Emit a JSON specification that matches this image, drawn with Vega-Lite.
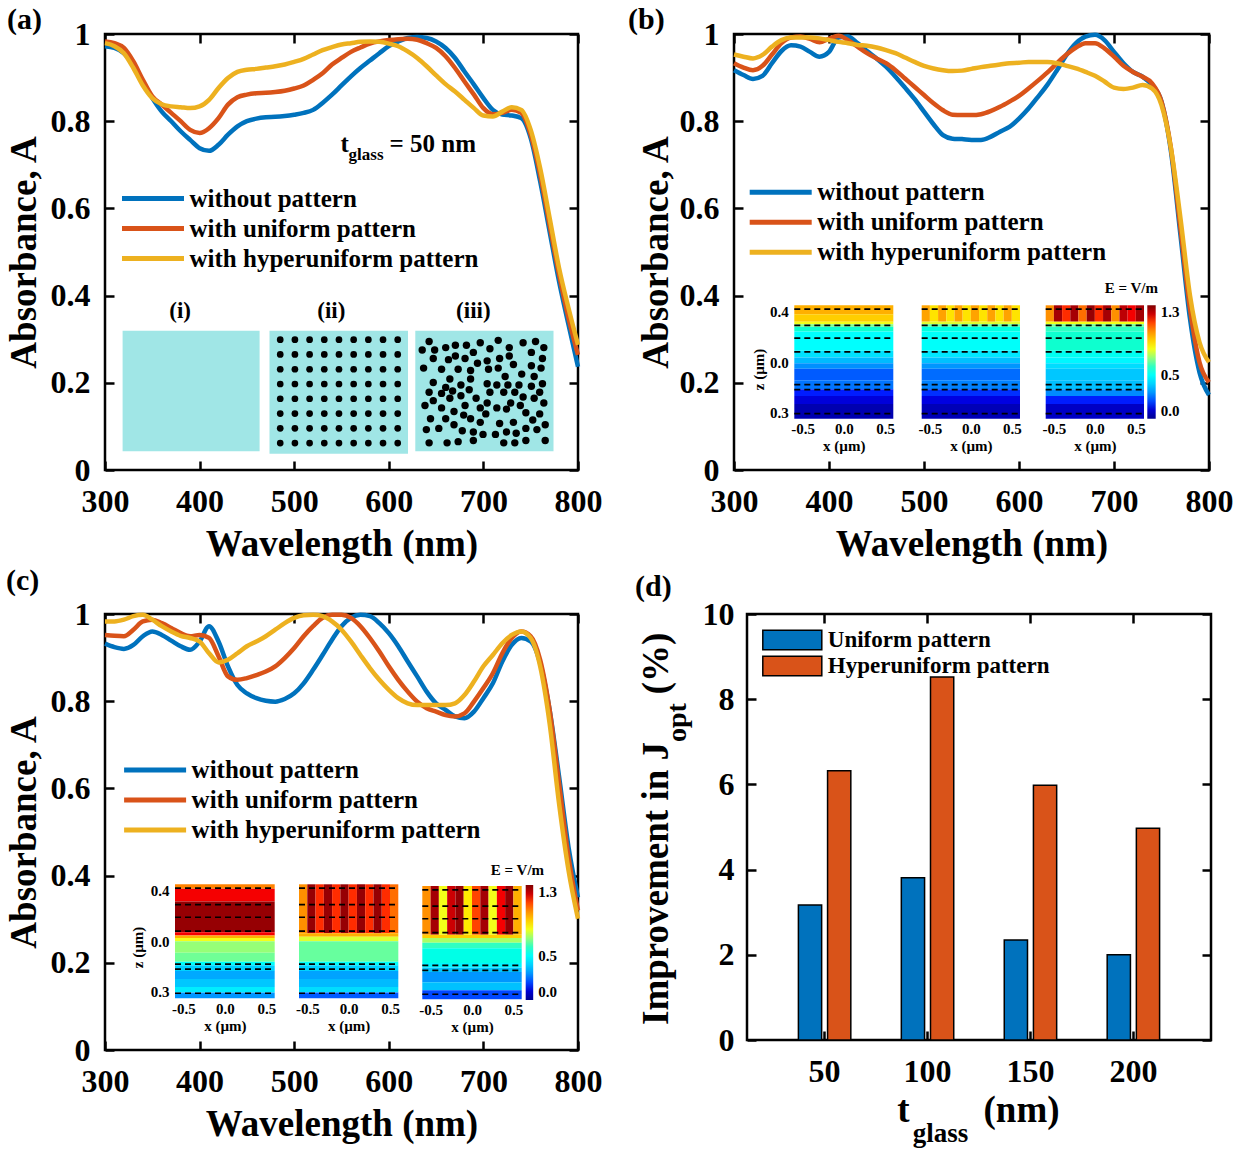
{
 "$schema": "https://vega.github.io/schema/vega-lite/v6.json",
 "padding": {"left": 3, "top": 3, "right": 0, "bottom": 0},
 "background": "white",
 "config": {
  "font": "Liberation Serif",
  "view": {"stroke": "black", "strokeWidth": 2.5},
  "axis": {"grid": false, "domain": false, "labelFont": "Liberation Serif", "labelFontWeight": "bold", "labelColor": "black", "titleFont": "Liberation Serif", "titleFontWeight": "bold", "titleColor": "black", "tickColor": "black", "labelFlush": false, "labelOverlap": false},
  "legend": {"labelFont": "Liberation Serif", "labelFontWeight": "bold", "labelColor": "black"},
  "title": {"font": "Liberation Serif", "fontWeight": "bold", "fontSize": 30, "anchor": "start", "frame": "group", "color": "black"},
  "text": {"font": "Liberation Serif", "color": "black"}
 },
 "datasets": {
  "abs_a": [
   {"wl":300,"without pattern":0.972,"with uniform pattern":0.983,"with hyperuniform pattern":0.979},
   {"wl":310,"without pattern":0.968,"with uniform pattern":0.979,"with hyperuniform pattern":0.972},
   {"wl":320,"without pattern":0.956,"with uniform pattern":0.968,"with hyperuniform pattern":0.956},
   {"wl":330,"without pattern":0.93,"with uniform pattern":0.937,"with hyperuniform pattern":0.922},
   {"wl":340,"without pattern":0.891,"with uniform pattern":0.895,"with hyperuniform pattern":0.882},
   {"wl":350,"without pattern":0.853,"with uniform pattern":0.857,"with hyperuniform pattern":0.853},
   {"wl":360,"without pattern":0.822,"with uniform pattern":0.838,"with hyperuniform pattern":0.839},
   {"wl":370,"without pattern":0.8,"with uniform pattern":0.819,"with hyperuniform pattern":0.834},
   {"wl":380,"without pattern":0.777,"with uniform pattern":0.8,"with hyperuniform pattern":0.832},
   {"wl":390,"without pattern":0.757,"with uniform pattern":0.78,"with hyperuniform pattern":0.83},
   {"wl":400,"without pattern":0.738,"with uniform pattern":0.773,"with hyperuniform pattern":0.834},
   {"wl":410,"without pattern":0.732,"with uniform pattern":0.784,"with hyperuniform pattern":0.849},
   {"wl":420,"without pattern":0.746,"with uniform pattern":0.807,"with hyperuniform pattern":0.876},
   {"wl":430,"without pattern":0.769,"with uniform pattern":0.838,"with hyperuniform pattern":0.899},
   {"wl":440,"without pattern":0.788,"with uniform pattern":0.855,"with hyperuniform pattern":0.913},
   {"wl":450,"without pattern":0.8,"with uniform pattern":0.861,"with hyperuniform pattern":0.918},
   {"wl":460,"without pattern":0.806,"with uniform pattern":0.864,"with hyperuniform pattern":0.92},
   {"wl":470,"without pattern":0.809,"with uniform pattern":0.865,"with hyperuniform pattern":0.923},
   {"wl":480,"without pattern":0.81,"with uniform pattern":0.867,"with hyperuniform pattern":0.926},
   {"wl":490,"without pattern":0.812,"with uniform pattern":0.87,"with hyperuniform pattern":0.93},
   {"wl":500,"without pattern":0.815,"with uniform pattern":0.875,"with hyperuniform pattern":0.936},
   {"wl":510,"without pattern":0.819,"with uniform pattern":0.882,"with hyperuniform pattern":0.943},
   {"wl":520,"without pattern":0.826,"with uniform pattern":0.895,"with hyperuniform pattern":0.953},
   {"wl":530,"without pattern":0.842,"with uniform pattern":0.91,"with hyperuniform pattern":0.963},
   {"wl":540,"without pattern":0.861,"with uniform pattern":0.93,"with hyperuniform pattern":0.97},
   {"wl":550,"without pattern":0.882,"with uniform pattern":0.945,"with hyperuniform pattern":0.976},
   {"wl":560,"without pattern":0.903,"with uniform pattern":0.959,"with hyperuniform pattern":0.979},
   {"wl":570,"without pattern":0.922,"with uniform pattern":0.969,"with hyperuniform pattern":0.982},
   {"wl":580,"without pattern":0.939,"with uniform pattern":0.978,"with hyperuniform pattern":0.983},
   {"wl":590,"without pattern":0.956,"with uniform pattern":0.983,"with hyperuniform pattern":0.982},
   {"wl":600,"without pattern":0.972,"with uniform pattern":0.986,"with hyperuniform pattern":0.978},
   {"wl":610,"without pattern":0.983,"with uniform pattern":0.988,"with hyperuniform pattern":0.972},
   {"wl":620,"without pattern":0.991,"with uniform pattern":0.989,"with hyperuniform pattern":0.96},
   {"wl":630,"without pattern":0.993,"with uniform pattern":0.987,"with hyperuniform pattern":0.945},
   {"wl":640,"without pattern":0.991,"with uniform pattern":0.979,"with hyperuniform pattern":0.926},
   {"wl":650,"without pattern":0.983,"with uniform pattern":0.968,"with hyperuniform pattern":0.905},
   {"wl":660,"without pattern":0.968,"with uniform pattern":0.949,"with hyperuniform pattern":0.885},
   {"wl":670,"without pattern":0.945,"with uniform pattern":0.922,"with hyperuniform pattern":0.868},
   {"wl":680,"without pattern":0.914,"with uniform pattern":0.891,"with hyperuniform pattern":0.849},
   {"wl":690,"without pattern":0.884,"with uniform pattern":0.861,"with hyperuniform pattern":0.83},
   {"wl":700,"without pattern":0.853,"with uniform pattern":0.83,"with hyperuniform pattern":0.813},
   {"wl":710,"without pattern":0.826,"with uniform pattern":0.816,"with hyperuniform pattern":0.811},
   {"wl":720,"without pattern":0.815,"with uniform pattern":0.819,"with hyperuniform pattern":0.822},
   {"wl":730,"without pattern":0.813,"with uniform pattern":0.826,"with hyperuniform pattern":0.832},
   {"wl":740,"without pattern":0.807,"with uniform pattern":0.819,"with hyperuniform pattern":0.826},
   {"wl":750,"without pattern":0.761,"with uniform pattern":0.769,"with hyperuniform pattern":0.78},
   {"wl":760,"without pattern":0.662,"with uniform pattern":0.677,"with hyperuniform pattern":0.692},
   {"wl":770,"without pattern":0.547,"with uniform pattern":0.562,"with hyperuniform pattern":0.578},
   {"wl":780,"without pattern":0.432,"with uniform pattern":0.448,"with hyperuniform pattern":0.463},
   {"wl":790,"without pattern":0.333,"with uniform pattern":0.348,"with hyperuniform pattern":0.371},
   {"wl":800,"without pattern":0.237,"with uniform pattern":0.264,"with hyperuniform pattern":0.287}
  ],
  "abs_b": [
   {"wl":300,"without pattern":0.917,"with uniform pattern":0.933,"with hyperuniform pattern":0.953},
   {"wl":310,"without pattern":0.906,"with uniform pattern":0.923,"with hyperuniform pattern":0.948},
   {"wl":320,"without pattern":0.897,"with uniform pattern":0.917,"with hyperuniform pattern":0.944},
   {"wl":330,"without pattern":0.904,"with uniform pattern":0.927,"with hyperuniform pattern":0.952},
   {"wl":340,"without pattern":0.933,"with uniform pattern":0.953,"with hyperuniform pattern":0.971},
   {"wl":350,"without pattern":0.961,"with uniform pattern":0.979,"with hyperuniform pattern":0.986},
   {"wl":360,"without pattern":0.974,"with uniform pattern":0.992,"with hyperuniform pattern":0.992},
   {"wl":370,"without pattern":0.971,"with uniform pattern":0.994,"with hyperuniform pattern":0.992},
   {"wl":380,"without pattern":0.959,"with uniform pattern":0.989,"with hyperuniform pattern":0.992},
   {"wl":390,"without pattern":0.948,"with uniform pattern":0.981,"with hyperuniform pattern":0.99},
   {"wl":400,"without pattern":0.959,"with uniform pattern":0.989,"with hyperuniform pattern":0.986},
   {"wl":410,"without pattern":0.992,"with uniform pattern":0.996,"with hyperuniform pattern":0.982},
   {"wl":420,"without pattern":0.994,"with uniform pattern":0.986,"with hyperuniform pattern":0.979},
   {"wl":430,"without pattern":0.979,"with uniform pattern":0.971,"with hyperuniform pattern":0.975},
   {"wl":440,"without pattern":0.961,"with uniform pattern":0.956,"with hyperuniform pattern":0.973},
   {"wl":450,"without pattern":0.944,"with uniform pattern":0.944,"with hyperuniform pattern":0.969},
   {"wl":460,"without pattern":0.925,"with uniform pattern":0.933,"with hyperuniform pattern":0.963},
   {"wl":470,"without pattern":0.902,"with uniform pattern":0.917,"with hyperuniform pattern":0.956},
   {"wl":480,"without pattern":0.877,"with uniform pattern":0.898,"with hyperuniform pattern":0.946},
   {"wl":490,"without pattern":0.851,"with uniform pattern":0.879,"with hyperuniform pattern":0.936},
   {"wl":500,"without pattern":0.822,"with uniform pattern":0.86,"with hyperuniform pattern":0.927},
   {"wl":510,"without pattern":0.793,"with uniform pattern":0.841,"with hyperuniform pattern":0.921},
   {"wl":520,"without pattern":0.768,"with uniform pattern":0.825,"with hyperuniform pattern":0.917},
   {"wl":530,"without pattern":0.76,"with uniform pattern":0.815,"with hyperuniform pattern":0.915},
   {"wl":540,"without pattern":0.759,"with uniform pattern":0.814,"with hyperuniform pattern":0.916},
   {"wl":550,"without pattern":0.757,"with uniform pattern":0.814,"with hyperuniform pattern":0.92},
   {"wl":560,"without pattern":0.757,"with uniform pattern":0.816,"with hyperuniform pattern":0.924},
   {"wl":570,"without pattern":0.764,"with uniform pattern":0.823,"with hyperuniform pattern":0.927},
   {"wl":580,"without pattern":0.776,"with uniform pattern":0.833,"with hyperuniform pattern":0.93},
   {"wl":590,"without pattern":0.787,"with uniform pattern":0.845,"with hyperuniform pattern":0.933},
   {"wl":600,"without pattern":0.806,"with uniform pattern":0.858,"with hyperuniform pattern":0.934},
   {"wl":610,"without pattern":0.829,"with uniform pattern":0.875,"with hyperuniform pattern":0.936},
   {"wl":620,"without pattern":0.856,"with uniform pattern":0.893,"with hyperuniform pattern":0.936},
   {"wl":630,"without pattern":0.884,"with uniform pattern":0.912,"with hyperuniform pattern":0.936},
   {"wl":640,"without pattern":0.917,"with uniform pattern":0.933,"with hyperuniform pattern":0.933},
   {"wl":650,"without pattern":0.952,"with uniform pattern":0.953,"with hyperuniform pattern":0.927},
   {"wl":660,"without pattern":0.979,"with uniform pattern":0.969,"with hyperuniform pattern":0.921},
   {"wl":670,"without pattern":0.994,"with uniform pattern":0.979,"with hyperuniform pattern":0.913},
   {"wl":680,"without pattern":0.998,"with uniform pattern":0.979,"with hyperuniform pattern":0.904},
   {"wl":690,"without pattern":0.986,"with uniform pattern":0.967,"with hyperuniform pattern":0.891},
   {"wl":700,"without pattern":0.959,"with uniform pattern":0.948,"with hyperuniform pattern":0.877},
   {"wl":710,"without pattern":0.933,"with uniform pattern":0.927,"with hyperuniform pattern":0.874},
   {"wl":720,"without pattern":0.913,"with uniform pattern":0.913,"with hyperuniform pattern":0.877},
   {"wl":730,"without pattern":0.902,"with uniform pattern":0.902,"with hyperuniform pattern":0.883},
   {"wl":740,"without pattern":0.883,"with uniform pattern":0.887,"with hyperuniform pattern":0.875},
   {"wl":750,"without pattern":0.845,"with uniform pattern":0.845,"with hyperuniform pattern":0.837},
   {"wl":760,"without pattern":0.73,"with uniform pattern":0.737,"with hyperuniform pattern":0.737},
   {"wl":770,"without pattern":0.538,"with uniform pattern":0.554,"with hyperuniform pattern":0.577},
   {"wl":780,"without pattern":0.347,"with uniform pattern":0.37,"with hyperuniform pattern":0.4},
   {"wl":790,"without pattern":0.224,"with uniform pattern":0.247,"with hyperuniform pattern":0.293},
   {"wl":800,"without pattern":0.172,"with uniform pattern":0.201,"with hyperuniform pattern":0.247}
  ],
  "abs_c": [
   {"wl":300,"without pattern":0.932,"with uniform pattern":0.952,"with hyperuniform pattern":0.983},
   {"wl":310,"without pattern":0.924,"with uniform pattern":0.95,"with hyperuniform pattern":0.983},
   {"wl":320,"without pattern":0.92,"with uniform pattern":0.949,"with hyperuniform pattern":0.987},
   {"wl":330,"without pattern":0.929,"with uniform pattern":0.964,"with hyperuniform pattern":0.995},
   {"wl":340,"without pattern":0.949,"with uniform pattern":0.983,"with hyperuniform pattern":0.998},
   {"wl":350,"without pattern":0.96,"with uniform pattern":0.987,"with hyperuniform pattern":0.987},
   {"wl":360,"without pattern":0.952,"with uniform pattern":0.979,"with hyperuniform pattern":0.972},
   {"wl":370,"without pattern":0.939,"with uniform pattern":0.968,"with hyperuniform pattern":0.96},
   {"wl":380,"without pattern":0.926,"with uniform pattern":0.956,"with hyperuniform pattern":0.95},
   {"wl":390,"without pattern":0.918,"with uniform pattern":0.949,"with hyperuniform pattern":0.945},
   {"wl":400,"without pattern":0.937,"with uniform pattern":0.952,"with hyperuniform pattern":0.937},
   {"wl":410,"without pattern":0.972,"with uniform pattern":0.945,"with hyperuniform pattern":0.91},
   {"wl":420,"without pattern":0.937,"with uniform pattern":0.903,"with hyperuniform pattern":0.889},
   {"wl":430,"without pattern":0.88,"with uniform pattern":0.857,"with hyperuniform pattern":0.895},
   {"wl":440,"without pattern":0.837,"with uniform pattern":0.849,"with hyperuniform pattern":0.91},
   {"wl":450,"without pattern":0.818,"with uniform pattern":0.853,"with hyperuniform pattern":0.926},
   {"wl":460,"without pattern":0.807,"with uniform pattern":0.86,"with hyperuniform pattern":0.937},
   {"wl":470,"without pattern":0.801,"with uniform pattern":0.868,"with hyperuniform pattern":0.949},
   {"wl":480,"without pattern":0.799,"with uniform pattern":0.88,"with hyperuniform pattern":0.964},
   {"wl":490,"without pattern":0.805,"with uniform pattern":0.899,"with hyperuniform pattern":0.979},
   {"wl":500,"without pattern":0.818,"with uniform pattern":0.922,"with hyperuniform pattern":0.991},
   {"wl":510,"without pattern":0.841,"with uniform pattern":0.949,"with hyperuniform pattern":0.997},
   {"wl":520,"without pattern":0.872,"with uniform pattern":0.972,"with hyperuniform pattern":0.998},
   {"wl":530,"without pattern":0.906,"with uniform pattern":0.991,"with hyperuniform pattern":0.995},
   {"wl":540,"without pattern":0.941,"with uniform pattern":0.998,"with hyperuniform pattern":0.983},
   {"wl":550,"without pattern":0.972,"with uniform pattern":0.998,"with hyperuniform pattern":0.964},
   {"wl":560,"without pattern":0.991,"with uniform pattern":0.991,"with hyperuniform pattern":0.937},
   {"wl":570,"without pattern":0.998,"with uniform pattern":0.972,"with hyperuniform pattern":0.906},
   {"wl":580,"without pattern":0.995,"with uniform pattern":0.945,"with hyperuniform pattern":0.876},
   {"wl":590,"without pattern":0.979,"with uniform pattern":0.914,"with hyperuniform pattern":0.849},
   {"wl":600,"without pattern":0.956,"with uniform pattern":0.88,"with hyperuniform pattern":0.826},
   {"wl":610,"without pattern":0.926,"with uniform pattern":0.849,"with hyperuniform pattern":0.807},
   {"wl":620,"without pattern":0.891,"with uniform pattern":0.822,"with hyperuniform pattern":0.795},
   {"wl":630,"without pattern":0.857,"with uniform pattern":0.799,"with hyperuniform pattern":0.791},
   {"wl":640,"without pattern":0.822,"with uniform pattern":0.784,"with hyperuniform pattern":0.791},
   {"wl":650,"without pattern":0.795,"with uniform pattern":0.776,"with hyperuniform pattern":0.791},
   {"wl":660,"without pattern":0.78,"with uniform pattern":0.768,"with hyperuniform pattern":0.791},
   {"wl":670,"without pattern":0.765,"with uniform pattern":0.765,"with hyperuniform pattern":0.795},
   {"wl":680,"without pattern":0.761,"with uniform pattern":0.772,"with hyperuniform pattern":0.814},
   {"wl":690,"without pattern":0.776,"with uniform pattern":0.799,"with hyperuniform pattern":0.845},
   {"wl":700,"without pattern":0.807,"with uniform pattern":0.83,"with hyperuniform pattern":0.88},
   {"wl":710,"without pattern":0.841,"with uniform pattern":0.864,"with hyperuniform pattern":0.906},
   {"wl":720,"without pattern":0.891,"with uniform pattern":0.91,"with hyperuniform pattern":0.933},
   {"wl":730,"without pattern":0.929,"with uniform pattern":0.945,"with hyperuniform pattern":0.952},
   {"wl":740,"without pattern":0.945,"with uniform pattern":0.96,"with hyperuniform pattern":0.96},
   {"wl":750,"without pattern":0.937,"with uniform pattern":0.949,"with hyperuniform pattern":0.945},
   {"wl":760,"without pattern":0.887,"with uniform pattern":0.895,"with hyperuniform pattern":0.88},
   {"wl":770,"without pattern":0.78,"with uniform pattern":0.78,"with hyperuniform pattern":0.749},
   {"wl":780,"without pattern":0.627,"with uniform pattern":0.611,"with hyperuniform pattern":0.565},
   {"wl":790,"without pattern":0.465,"with uniform pattern":0.442,"with hyperuniform pattern":0.412},
   {"wl":800,"without pattern":0.35,"with uniform pattern":0.32,"with hyperuniform pattern":0.301}
  ],
  "grid": [
   {"c":1,"r":1},{"c":2,"r":1},{"c":3,"r":1},{"c":4,"r":1},{"c":5,"r":1},{"c":6,"r":1},{"c":7,"r":1},{"c":8,"r":1},{"c":9,"r":1},
   {"c":1,"r":2},{"c":2,"r":2},{"c":3,"r":2},{"c":4,"r":2},{"c":5,"r":2},{"c":6,"r":2},{"c":7,"r":2},{"c":8,"r":2},{"c":9,"r":2},
   {"c":1,"r":3},{"c":2,"r":3},{"c":3,"r":3},{"c":4,"r":3},{"c":5,"r":3},{"c":6,"r":3},{"c":7,"r":3},{"c":8,"r":3},{"c":9,"r":3},
   {"c":1,"r":4},{"c":2,"r":4},{"c":3,"r":4},{"c":4,"r":4},{"c":5,"r":4},{"c":6,"r":4},{"c":7,"r":4},{"c":8,"r":4},{"c":9,"r":4},
   {"c":1,"r":5},{"c":2,"r":5},{"c":3,"r":5},{"c":4,"r":5},{"c":5,"r":5},{"c":6,"r":5},{"c":7,"r":5},{"c":8,"r":5},{"c":9,"r":5},
   {"c":1,"r":6},{"c":2,"r":6},{"c":3,"r":6},{"c":4,"r":6},{"c":5,"r":6},{"c":6,"r":6},{"c":7,"r":6},{"c":8,"r":6},{"c":9,"r":6},
   {"c":1,"r":7},{"c":2,"r":7},{"c":3,"r":7},{"c":4,"r":7},{"c":5,"r":7},{"c":6,"r":7},{"c":7,"r":7},{"c":8,"r":7},{"c":9,"r":7},
   {"c":1,"r":8},{"c":2,"r":8},{"c":3,"r":8},{"c":4,"r":8},{"c":5,"r":8},{"c":6,"r":8},{"c":7,"r":8},{"c":8,"r":8},{"c":9,"r":8}
  ],
  "hyper": [
   {"u":10,"v":9},{"u":29,"v":12},{"u":37,"v":12},{"u":47,"v":10},{"u":60,"v":8},{"u":78,"v":10},{"u":87,"v":9},
   {"u":5,"v":16},{"u":14,"v":16},{"u":22,"v":14},{"u":42,"v":18},{"u":54,"v":15},{"u":68,"v":14},{"u":84,"v":18},{"u":93,"v":14},
   {"u":13,"v":23},{"u":24,"v":24},{"u":29,"v":21},{"u":36,"v":23},{"u":45,"v":27},{"u":52,"v":25},{"u":61,"v":23},{"u":68,"v":21},{"u":92,"v":23},
   {"u":6,"v":31},{"u":19,"v":32},{"u":31,"v":32},{"u":40,"v":33},{"u":53,"v":32},{"u":60,"v":31},{"u":71,"v":28},{"u":84,"v":29},{"u":91,"v":31},
   {"u":25,"v":40},{"u":40,"v":40},{"u":65,"v":38},{"u":77,"v":36},{"u":86,"v":38},
   {"u":13,"v":43},{"u":22,"v":47},{"u":33,"v":45},{"u":52,"v":44},{"u":59,"v":45},{"u":67,"v":45},{"u":75,"v":45},{"u":84,"v":46},{"u":92,"v":44},
   {"u":10,"v":51},{"u":19,"v":52},{"u":27,"v":50},{"u":39,"v":49},{"u":54,"v":51},{"u":64,"v":51},{"u":72,"v":51},{"u":90,"v":51},
   {"u":13,"v":58},{"u":25,"v":56},{"u":33,"v":54},{"u":44,"v":56},{"u":52,"v":60},{"u":69,"v":60},{"u":78,"v":55},{"u":86,"v":56},{"u":93,"v":60},
   {"u":7,"v":62},{"u":19,"v":64},{"u":36,"v":62},{"u":47,"v":64},{"u":59,"v":64},{"u":76,"v":62},
   {"u":28,"v":67},{"u":35,"v":70},{"u":51,"v":69},{"u":66,"v":65},{"u":80,"v":68},{"u":90,"v":69},
   {"u":11,"v":73},{"u":22,"v":73},{"u":40,"v":73},{"u":47,"v":76},{"u":61,"v":77},{"u":71,"v":76},{"u":85,"v":74},{"u":94,"v":78},
   {"u":8,"v":82},{"u":17,"v":81},{"u":28,"v":78},{"u":34,"v":83},{"u":42,"v":84},{"u":49,"v":86},{"u":58,"v":86},{"u":66,"v":84},{"u":73,"v":85},{"u":80,"v":81},{"u":88,"v":82},
   {"u":10,"v":93},{"u":23,"v":93},{"u":31,"v":92},{"u":42,"v":91},{"u":64,"v":93},{"u":72,"v":93},{"u":80,"v":91},{"u":94,"v":91}
  ],
  "dash": [{"z":0.42},{"z":0.29},{"z":0.19},{"z":0.08},{"z":-0.18},{"z":-0.22},{"z":-0.41}],
  "heat": [
   {"m":"b1","x0":-0.6,"x1":0.6,"z0":0.378,"z1":0.45,"E":0.95},
   {"m":"b1","x0":-0.6,"x1":0.6,"z0":0.32,"z1":0.378,"E":0.9},
   {"m":"b1","x0":-0.6,"x1":0.6,"z0":0.3,"z1":0.32,"E":0.8},
   {"m":"b1","x0":-0.6,"x1":0.6,"z0":0.279,"z1":0.3,"E":0.68},
   {"m":"b1","x0":-0.6,"x1":0.6,"z0":0.243,"z1":0.279,"E":0.58},
   {"m":"b1","x0":-0.6,"x1":0.6,"z0":0.09,"z1":0.243,"E":0.49},
   {"m":"b1","x0":-0.6,"x1":0.6,"z0":0.036,"z1":0.09,"E":0.43},
   {"m":"b1","x0":-0.6,"x1":0.6,"z0":-0.009,"z1":0.036,"E":0.36},
   {"m":"b1","x0":-0.6,"x1":0.6,"z0":-0.054,"z1":-0.009,"E":0.29},
   {"m":"b1","x0":-0.6,"x1":0.6,"z0":-0.144,"z1":-0.054,"E":0.22},
   {"m":"b1","x0":-0.6,"x1":0.6,"z0":-0.216,"z1":-0.144,"E":0.25},
   {"m":"b1","x0":-0.6,"x1":0.6,"z0":-0.27,"z1":-0.216,"E":0.17},
   {"m":"b1","x0":-0.6,"x1":0.6,"z0":-0.333,"z1":-0.27,"E":0.11},
   {"m":"b1","x0":-0.6,"x1":0.6,"z0":-0.45,"z1":-0.333,"E":0.05},
   {"m":"b2","x0":-0.6,"x1":-0.5,"z0":0.32,"z1":0.45,"E":0.97},
   {"m":"b2","x0":-0.5,"x1":-0.4,"z0":0.32,"z1":0.45,"E":0.86},
   {"m":"b2","x0":-0.4,"x1":-0.3,"z0":0.32,"z1":0.45,"E":0.97},
   {"m":"b2","x0":-0.3,"x1":-0.2,"z0":0.32,"z1":0.45,"E":0.86},
   {"m":"b2","x0":-0.2,"x1":-0.1,"z0":0.32,"z1":0.45,"E":0.97},
   {"m":"b2","x0":-0.1,"x1":0.0,"z0":0.32,"z1":0.45,"E":0.86},
   {"m":"b2","x0":0.0,"x1":0.1,"z0":0.32,"z1":0.45,"E":0.97},
   {"m":"b2","x0":0.1,"x1":0.2,"z0":0.32,"z1":0.45,"E":0.86},
   {"m":"b2","x0":0.2,"x1":0.3,"z0":0.32,"z1":0.45,"E":0.97},
   {"m":"b2","x0":0.3,"x1":0.4,"z0":0.32,"z1":0.45,"E":0.86},
   {"m":"b2","x0":0.4,"x1":0.5,"z0":0.32,"z1":0.45,"E":0.97},
   {"m":"b2","x0":0.5,"x1":0.6,"z0":0.32,"z1":0.45,"E":0.86},
   {"m":"b2","x0":-0.6,"x1":0.6,"z0":0.3,"z1":0.32,"E":0.78},
   {"m":"b2","x0":-0.6,"x1":0.6,"z0":0.279,"z1":0.3,"E":0.64},
   {"m":"b2","x0":-0.6,"x1":0.6,"z0":0.243,"z1":0.279,"E":0.55},
   {"m":"b2","x0":-0.6,"x1":0.6,"z0":0.09,"z1":0.243,"E":0.5},
   {"m":"b2","x0":-0.6,"x1":0.6,"z0":0.036,"z1":0.09,"E":0.44},
   {"m":"b2","x0":-0.6,"x1":0.6,"z0":-0.009,"z1":0.036,"E":0.37},
   {"m":"b2","x0":-0.6,"x1":0.6,"z0":-0.054,"z1":-0.009,"E":0.3},
   {"m":"b2","x0":-0.6,"x1":0.6,"z0":-0.144,"z1":-0.054,"E":0.24},
   {"m":"b2","x0":-0.6,"x1":0.6,"z0":-0.216,"z1":-0.144,"E":0.27},
   {"m":"b2","x0":-0.6,"x1":0.6,"z0":-0.27,"z1":-0.216,"E":0.18},
   {"m":"b2","x0":-0.6,"x1":0.6,"z0":-0.333,"z1":-0.27,"E":0.12},
   {"m":"b2","x0":-0.6,"x1":0.6,"z0":-0.45,"z1":-0.333,"E":0.06},
   {"m":"b3","x0":-0.6,"x1":-0.5,"z0":0.32,"z1":0.45,"E":1.0},
   {"m":"b3","x0":-0.5,"x1":-0.4,"z0":0.32,"z1":0.45,"E":1.25},
   {"m":"b3","x0":-0.4,"x1":-0.3,"z0":0.32,"z1":0.45,"E":1.12},
   {"m":"b3","x0":-0.3,"x1":-0.2,"z0":0.32,"z1":0.45,"E":1.25},
   {"m":"b3","x0":-0.2,"x1":-0.1,"z0":0.32,"z1":0.45,"E":1.05},
   {"m":"b3","x0":-0.1,"x1":0.0,"z0":0.32,"z1":0.45,"E":1.27},
   {"m":"b3","x0":0.0,"x1":0.1,"z0":0.32,"z1":0.45,"E":1.12},
   {"m":"b3","x0":0.1,"x1":0.2,"z0":0.32,"z1":0.45,"E":1.25},
   {"m":"b3","x0":0.2,"x1":0.3,"z0":0.32,"z1":0.45,"E":1.0},
   {"m":"b3","x0":0.3,"x1":0.4,"z0":0.32,"z1":0.45,"E":1.22},
   {"m":"b3","x0":0.4,"x1":0.5,"z0":0.32,"z1":0.45,"E":1.15},
   {"m":"b3","x0":0.5,"x1":0.6,"z0":0.32,"z1":0.45,"E":1.25},
   {"m":"b3","x0":-0.6,"x1":0.6,"z0":0.3,"z1":0.32,"E":0.8},
   {"m":"b3","x0":-0.6,"x1":0.6,"z0":0.279,"z1":0.3,"E":0.66},
   {"m":"b3","x0":-0.6,"x1":0.6,"z0":0.243,"z1":0.279,"E":0.6},
   {"m":"b3","x0":-0.6,"x1":0.6,"z0":0.09,"z1":0.243,"E":0.58},
   {"m":"b3","x0":-0.6,"x1":0.6,"z0":0.036,"z1":0.09,"E":0.52},
   {"m":"b3","x0":-0.6,"x1":0.6,"z0":-0.009,"z1":0.036,"E":0.47},
   {"m":"b3","x0":-0.6,"x1":0.6,"z0":-0.054,"z1":-0.009,"E":0.42},
   {"m":"b3","x0":-0.6,"x1":0.6,"z0":-0.144,"z1":-0.054,"E":0.38},
   {"m":"b3","x0":-0.6,"x1":0.6,"z0":-0.216,"z1":-0.144,"E":0.37},
   {"m":"b3","x0":-0.6,"x1":0.6,"z0":-0.27,"z1":-0.216,"E":0.28},
   {"m":"b3","x0":-0.6,"x1":0.6,"z0":-0.333,"z1":-0.27,"E":0.17},
   {"m":"b3","x0":-0.6,"x1":0.6,"z0":-0.45,"z1":-0.333,"E":0.08},
   {"m":"c1","x0":-0.6,"x1":0.6,"z0":0.414,"z1":0.45,"E":1.02},
   {"m":"c1","x0":-0.6,"x1":0.6,"z0":0.315,"z1":0.414,"E":1.15},
   {"m":"c1","x0":-0.6,"x1":0.6,"z0":0.072,"z1":0.315,"E":1.27},
   {"m":"c1","x0":-0.6,"x1":0.6,"z0":0.045,"z1":0.072,"E":1.15},
   {"m":"c1","x0":-0.6,"x1":0.6,"z0":0.027,"z1":0.045,"E":0.95},
   {"m":"c1","x0":-0.6,"x1":0.6,"z0":0.0,"z1":0.027,"E":0.8},
   {"m":"c1","x0":-0.6,"x1":0.6,"z0":-0.09,"z1":0.0,"E":0.7},
   {"m":"c1","x0":-0.6,"x1":0.6,"z0":-0.162,"z1":-0.09,"E":0.66},
   {"m":"c1","x0":-0.6,"x1":0.6,"z0":-0.189,"z1":-0.162,"E":0.5},
   {"m":"c1","x0":-0.6,"x1":0.6,"z0":-0.234,"z1":-0.189,"E":0.4},
   {"m":"c1","x0":-0.6,"x1":0.6,"z0":-0.297,"z1":-0.234,"E":0.33},
   {"m":"c1","x0":-0.6,"x1":0.6,"z0":-0.36,"z1":-0.297,"E":0.38},
   {"m":"c1","x0":-0.6,"x1":0.6,"z0":-0.405,"z1":-0.36,"E":0.45},
   {"m":"c1","x0":-0.6,"x1":0.6,"z0":-0.45,"z1":-0.405,"E":0.3},
   {"m":"c2","x0":-0.6,"x1":-0.5,"z0":0.063,"z1":0.45,"E":1.0},
   {"m":"c2","x0":-0.5,"x1":-0.4,"z0":0.063,"z1":0.45,"E":1.27},
   {"m":"c2","x0":-0.4,"x1":-0.3,"z0":0.063,"z1":0.45,"E":1.12},
   {"m":"c2","x0":-0.3,"x1":-0.2,"z0":0.063,"z1":0.45,"E":1.27},
   {"m":"c2","x0":-0.2,"x1":-0.1,"z0":0.063,"z1":0.45,"E":1.12},
   {"m":"c2","x0":-0.1,"x1":0.0,"z0":0.063,"z1":0.45,"E":1.27},
   {"m":"c2","x0":0.0,"x1":0.1,"z0":0.063,"z1":0.45,"E":1.12},
   {"m":"c2","x0":0.1,"x1":0.2,"z0":0.063,"z1":0.45,"E":1.27},
   {"m":"c2","x0":0.2,"x1":0.3,"z0":0.063,"z1":0.45,"E":1.12},
   {"m":"c2","x0":0.3,"x1":0.4,"z0":0.063,"z1":0.45,"E":1.27},
   {"m":"c2","x0":0.4,"x1":0.5,"z0":0.063,"z1":0.45,"E":1.12},
   {"m":"c2","x0":0.5,"x1":0.6,"z0":0.063,"z1":0.45,"E":1.05},
   {"m":"c2","x0":-0.6,"x1":0.6,"z0":0.036,"z1":0.063,"E":0.95},
   {"m":"c2","x0":-0.6,"x1":0.6,"z0":0.0,"z1":0.036,"E":0.78},
   {"m":"c2","x0":-0.6,"x1":0.6,"z0":-0.162,"z1":0.0,"E":0.65},
   {"m":"c2","x0":-0.6,"x1":0.6,"z0":-0.189,"z1":-0.162,"E":0.5},
   {"m":"c2","x0":-0.6,"x1":0.6,"z0":-0.234,"z1":-0.189,"E":0.4},
   {"m":"c2","x0":-0.6,"x1":0.6,"z0":-0.297,"z1":-0.234,"E":0.32},
   {"m":"c2","x0":-0.6,"x1":0.6,"z0":-0.36,"z1":-0.297,"E":0.36},
   {"m":"c2","x0":-0.6,"x1":0.6,"z0":-0.405,"z1":-0.36,"E":0.42},
   {"m":"c2","x0":-0.6,"x1":0.6,"z0":-0.45,"z1":-0.405,"E":0.22},
   {"m":"c3","x0":-0.6,"x1":-0.5,"z0":0.063,"z1":0.45,"E":1.0},
   {"m":"c3","x0":-0.5,"x1":-0.4,"z0":0.063,"z1":0.45,"E":1.25},
   {"m":"c3","x0":-0.4,"x1":-0.3,"z0":0.063,"z1":0.45,"E":0.8},
   {"m":"c3","x0":-0.3,"x1":-0.2,"z0":0.063,"z1":0.45,"E":1.2},
   {"m":"c3","x0":-0.2,"x1":-0.1,"z0":0.063,"z1":0.45,"E":1.27},
   {"m":"c3","x0":-0.1,"x1":0.0,"z0":0.063,"z1":0.45,"E":0.85},
   {"m":"c3","x0":0.0,"x1":0.1,"z0":0.063,"z1":0.45,"E":1.1},
   {"m":"c3","x0":0.1,"x1":0.2,"z0":0.063,"z1":0.45,"E":1.25},
   {"m":"c3","x0":0.2,"x1":0.3,"z0":0.063,"z1":0.45,"E":0.8},
   {"m":"c3","x0":0.3,"x1":0.4,"z0":0.063,"z1":0.45,"E":1.15},
   {"m":"c3","x0":0.4,"x1":0.5,"z0":0.063,"z1":0.45,"E":1.27},
   {"m":"c3","x0":0.5,"x1":0.6,"z0":0.063,"z1":0.45,"E":0.95},
   {"m":"c3","x0":-0.6,"x1":0.6,"z0":0.036,"z1":0.063,"E":0.9},
   {"m":"c3","x0":-0.6,"x1":0.6,"z0":0.0,"z1":0.036,"E":0.72},
   {"m":"c3","x0":-0.6,"x1":0.6,"z0":-0.045,"z1":0.0,"E":0.6},
   {"m":"c3","x0":-0.6,"x1":0.6,"z0":-0.162,"z1":-0.045,"E":0.54},
   {"m":"c3","x0":-0.6,"x1":0.6,"z0":-0.198,"z1":-0.162,"E":0.47},
   {"m":"c3","x0":-0.6,"x1":0.6,"z0":-0.234,"z1":-0.198,"E":0.38},
   {"m":"c3","x0":-0.6,"x1":0.6,"z0":-0.315,"z1":-0.234,"E":0.3},
   {"m":"c3","x0":-0.6,"x1":0.6,"z0":-0.378,"z1":-0.315,"E":0.37},
   {"m":"c3","x0":-0.6,"x1":0.6,"z0":-0.45,"z1":-0.378,"E":0.2}
  ],
  "bars": [
   {"t":"50","pattern":"Uniform pattern","v":3.17},
   {"t":"50","pattern":"Hyperuniform pattern","v":6.32},
   {"t":"100","pattern":"Uniform pattern","v":3.81},
   {"t":"100","pattern":"Hyperuniform pattern","v":8.52},
   {"t":"150","pattern":"Uniform pattern","v":2.35},
   {"t":"150","pattern":"Hyperuniform pattern","v":5.98},
   {"t":"200","pattern":"Uniform pattern","v":2.0},
   {"t":"200","pattern":"Hyperuniform pattern","v":4.97}
  ]
 },
 "spacing": 0,
 "resolve": {"scale": {"stroke": "independent", "fill": "independent"}},
 "vconcat": [
  {
   "hconcat": [
    {
     "width": 473, "height": 436,
     "title": {"text": "(a)", "dx": -98, "offset": -17},
     "resolve": {"scale": {"x": "independent", "y": "independent"}, "axis": {"x": "independent", "y": "independent"}},
     "layer": [
      {
       "data": {"name": "abs_a"},
       "transform": [{"fold": ["without pattern", "with uniform pattern", "with hyperuniform pattern"], "as": ["series", "A"]}],
       "mark": {"type": "line", "strokeWidth": 4.5, "interpolate": "monotone"},
       "encoding": {
        "x": {"field": "wl", "type": "quantitative", "scale": {"domain": [300, 800], "nice": false, "zero": false},
              "axis": {"orient": "bottom", "values": [300, 400, 500, 600, 700, 800], "format": "d", "labelFontSize": 32, "tickSize": -9, "tickWidth": 2.5, "labelPadding": 25, "title": "Wavelength (nm)", "titleFontSize": 37, "titleY": 85, "titleBaseline": "alphabetic"}},
        "y": {"field": "A", "type": "quantitative", "scale": {"domain": [0, 1], "nice": false, "zero": false},
              "axis": {"orient": "left", "values": [0, 0.2, 0.4, 0.6, 0.8, 1], "labelExpr": "datum.value == 0 ? '0' : datum.value == 1 ? '1' : format(datum.value, '.1f')", "labelFontSize": 32, "tickSize": -9, "tickWidth": 2.5, "labelPadding": 24, "title": "Absorbance, A", "titleFontSize": 37, "titleX": -70, "titleY": 218, "titleAngle": 270, "titleBaseline": "alphabetic", "titleAlign": "center"}},
        "stroke": {"field": "series", "type": "nominal", "scale": {"domain": ["without pattern", "with uniform pattern", "with hyperuniform pattern"], "range": ["#0072BD", "#D95319", "#EDB120"]},
                   "legend": {"orient": "none", "legendX": 14.5, "legendY": 149.5, "title": null, "symbolType": "stroke", "symbolSize": 3844, "symbolStrokeWidth": 5, "clipHeight": 30, "rowPadding": 0, "padding": 0, "labelFontSize": 25, "labelOffset": 3, "labelLimit": 0}}
       }
      },
      {"data": {"values": [{}]}, "mark": {"type": "text", "text": "t", "fontSize": 25, "fontWeight": "bold", "align": "left", "baseline": "alphabetic"},
       "encoding": {"x": {"datum": 549, "type": "quantitative", "scale": {"domain": [300, 800], "nice": false, "zero": false}, "axis": {"orient": "top", "values": [300, 400, 500, 600, 700, 800], "labels": false, "tickSize": -9, "tickWidth": 2.5, "title": null}},
                    "y": {"datum": 0.729, "type": "quantitative", "scale": {"domain": [0, 1], "nice": false, "zero": false}, "axis": {"orient": "right", "values": [0, 0.2, 0.4, 0.6, 0.8, 1], "labels": false, "tickSize": -9, "tickWidth": 2.5, "title": null}}}},
      {"data": {"values": [{}]}, "mark": {"type": "text", "text": "glass", "fontSize": 17, "fontWeight": "bold", "align": "left", "baseline": "alphabetic", "dx": 8, "dy": 8},
       "encoding": {"x": {"datum": 549, "type": "quantitative", "scale": {"domain": [300, 800], "nice": false, "zero": false}, "axis": null}, "y": {"datum": 0.729, "type": "quantitative", "scale": {"domain": [0, 1], "nice": false, "zero": false}, "axis": null}}},
      {"data": {"values": [{}]}, "mark": {"type": "text", "text": "= 50 nm", "fontSize": 25, "fontWeight": "bold", "align": "left", "baseline": "alphabetic", "dx": 49},
       "encoding": {"x": {"datum": 549, "type": "quantitative", "scale": {"domain": [300, 800], "nice": false, "zero": false}, "axis": null}, "y": {"datum": 0.729, "type": "quantitative", "scale": {"domain": [0, 1], "nice": false, "zero": false}, "axis": null}}},
      {"data": {"values": [{}]}, "mark": {"type": "rect", "fill": "#a0e6e6"},
       "encoding": {"x": {"datum": 0, "type": "quantitative", "scale": {"domain": [0, 1], "range": [17.6, 154.6], "nice": false, "zero": false}, "axis": null}, "x2": {"datum": 1},
                    "y": {"datum": 0, "type": "quantitative", "scale": {"domain": [0, 1], "range": [296.7, 417.3], "nice": false, "zero": false}, "axis": null}, "y2": {"datum": 1}}},
      {"data": {"values": [{}]}, "mark": {"type": "text", "text": "(i)", "fontSize": 23, "fontWeight": "bold", "baseline": "middle"},
       "encoding": {"x": {"datum": 0.42, "type": "quantitative", "scale": {"domain": [0, 1], "range": [17.6, 154.6], "nice": false, "zero": false}, "axis": null}, "y": {"datum": -0.16, "type": "quantitative", "scale": {"domain": [0, 1], "range": [296.7, 417.3], "nice": false, "zero": false}, "axis": null}}},
      {"data": {"values": [{}]}, "mark": {"type": "rect", "fill": "#a0e6e6"},
       "encoding": {"x": {"datum": 0.27, "type": "quantitative", "scale": {"domain": [0.27, 9.7], "range": [164.5, 303], "nice": false, "zero": false}, "axis": null}, "x2": {"datum": 9.7},
                    "y": {"datum": 0.39, "type": "quantitative", "scale": {"domain": [0.39, 8.72], "range": [296.7, 419.7], "nice": false, "zero": false}, "axis": null}, "y2": {"datum": 8.72}}},
      {"data": {"name": "grid"}, "mark": {"type": "circle", "size": 45, "color": "black", "opacity": 1},
       "encoding": {"x": {"field": "c", "type": "quantitative", "scale": {"domain": [0.27, 9.7], "range": [164.5, 303], "nice": false, "zero": false}, "axis": null}, "y": {"field": "r", "type": "quantitative", "scale": {"domain": [0.39, 8.72], "range": [296.7, 419.7], "nice": false, "zero": false}, "axis": null}}},
      {"data": {"values": [{}]}, "mark": {"type": "text", "text": "(ii)", "fontSize": 23, "fontWeight": "bold", "baseline": "middle"},
       "encoding": {"x": {"datum": 4.48, "type": "quantitative", "scale": {"domain": [0.27, 9.7], "range": [164.5, 303], "nice": false, "zero": false}, "axis": null}, "y": {"datum": -0.92, "type": "quantitative", "scale": {"domain": [0.39, 8.72], "range": [296.7, 419.7], "nice": false, "zero": false}, "axis": null}}},
      {"data": {"values": [{}]}, "mark": {"type": "rect", "fill": "#a0e6e6"},
       "encoding": {"x": {"datum": 0, "type": "quantitative", "scale": {"domain": [0, 100], "range": [310.3, 448.5], "nice": false, "zero": false}, "axis": null}, "x2": {"datum": 100},
                    "y": {"datum": 0, "type": "quantitative", "scale": {"domain": [0, 100], "range": [296.7, 417.3], "nice": false, "zero": false}, "axis": null}, "y2": {"datum": 100}}},
      {"data": {"name": "hyper"}, "mark": {"type": "circle", "size": 55, "color": "black", "opacity": 1},
       "encoding": {"x": {"field": "u", "type": "quantitative", "scale": {"domain": [0, 100], "range": [310.3, 448.5], "nice": false, "zero": false}, "axis": null}, "y": {"field": "v", "type": "quantitative", "scale": {"domain": [0, 100], "range": [296.7, 417.3], "nice": false, "zero": false}, "axis": null}}},
      {"data": {"values": [{}]}, "mark": {"type": "text", "text": "(iii)", "fontSize": 23, "fontWeight": "bold", "baseline": "middle"},
       "encoding": {"x": {"datum": 42, "type": "quantitative", "scale": {"domain": [0, 100], "range": [310.3, 448.5], "nice": false, "zero": false}, "axis": null}, "y": {"datum": -16, "type": "quantitative", "scale": {"domain": [0, 100], "range": [296.7, 417.3], "nice": false, "zero": false}, "axis": null}}}
     ]
    },
    {
     "width": 475, "height": 436,
     "title": {"text": "(b)", "dx": -106, "offset": -17},
     "resolve": {"scale": {"x": "independent", "y": "independent"}, "axis": {"x": "independent", "y": "independent"}},
     "layer": [
      {
       "data": {"name": "abs_b"},
       "transform": [{"fold": ["without pattern", "with uniform pattern", "with hyperuniform pattern"], "as": ["series", "A"]}],
       "mark": {"type": "line", "strokeWidth": 4.5, "interpolate": "monotone"},
       "encoding": {
        "x": {"field": "wl", "type": "quantitative", "scale": {"domain": [300, 800], "nice": false, "zero": false},
              "axis": {"orient": "bottom", "values": [300, 400, 500, 600, 700, 800], "format": "d", "labelFontSize": 32, "tickSize": -9, "tickWidth": 2.5, "labelPadding": 25, "title": "Wavelength (nm)", "titleFontSize": 37, "titleY": 85, "titleBaseline": "alphabetic"}},
        "y": {"field": "A", "type": "quantitative", "scale": {"domain": [0, 1], "nice": false, "zero": false},
              "axis": {"orient": "left", "values": [0, 0.2, 0.4, 0.6, 0.8, 1], "labelExpr": "datum.value == 0 ? '0' : datum.value == 1 ? '1' : format(datum.value, '.1f')", "labelFontSize": 32, "tickSize": -9, "tickWidth": 2.5, "labelPadding": 24, "title": "Absorbance, A", "titleFontSize": 37, "titleX": -67, "titleY": 218, "titleAngle": 270, "titleBaseline": "alphabetic", "titleAlign": "center"}},
        "stroke": {"field": "series", "type": "nominal", "scale": {"domain": ["without pattern", "with uniform pattern", "with hyperuniform pattern"], "range": ["#0072BD", "#D95319", "#EDB120"]},
                   "legend": {"orient": "none", "legendX": 13.2, "legendY": 143.3, "title": null, "symbolType": "stroke", "symbolSize": 3844, "symbolStrokeWidth": 5, "clipHeight": 30, "rowPadding": 0, "padding": 0, "labelFontSize": 25, "labelOffset": 3, "labelLimit": 0}}
       }
      },
      {"data": {"values": [{}]}, "mark": {"type": "point", "opacity": 0},
       "encoding": {"x": {"datum": 300, "type": "quantitative", "scale": {"domain": [300, 800], "nice": false, "zero": false}, "axis": {"orient": "top", "values": [300, 400, 500, 600, 700, 800], "labels": false, "tickSize": -9, "tickWidth": 2.5, "title": null}},
                    "y": {"datum": 0, "type": "quantitative", "scale": {"domain": [0, 1], "nice": false, "zero": false}, "axis": {"orient": "right", "values": [0, 0.2, 0.4, 0.6, 0.8, 1], "labels": false, "tickSize": -9, "tickWidth": 2.5, "title": null}}}},
      {"data": {"name": "heat"}, "transform": [{"filter": "datum.m == 'b1'"}], "mark": {"type": "rect"},
       "encoding": {
        "x": {"field": "x0", "type": "quantitative", "scale": {"domain": [-0.6, 0.6], "range": [60.3, 159.3], "nice": false, "zero": false},
              "axis": {"orient": "bottom", "offset": -51.3, "values": [-0.5, 0, 0.5], "labelExpr": "datum.value < 0 ? '-0.5' : datum.value > 0 ? '0.5' : '0.0'", "labelFontSize": 15, "ticks": false, "domain": false, "labelPadding": 3, "title": "x (µm)", "titleFontSize": 15, "titleY": 32, "titleBaseline": "alphabetic"}},
        "x2": {"field": "x1"},
        "y": {"field": "z0", "type": "quantitative", "scale": {"domain": [-0.45, 0.45], "range": [384.7, 271.3], "nice": false, "zero": false},
              "axis": {"orient": "left", "offset": -60.3, "values": [0.4, 0, -0.4], "labelExpr": "datum.value > 0.2 ? '0.4' : datum.value < -0.2 ? '0.3' : '0.0'", "labelFontSize": 15, "ticks": false, "domain": false, "labelPadding": 6, "title": "z (µm)", "titleFontSize": 15, "titleAngle": 270, "titleX": -36, "titleY": 335, "titleBaseline": "middle", "titleAlign": "center"}},
        "y2": {"field": "z1"},
        "fill": {"field": "E", "type": "quantitative", "scale": {"domain": [0, 0.1625, 0.4875, 0.8125, 1.1375, 1.3], "range": ["#00008f", "#0000ff", "#00ffff", "#ffff00", "#ff0000", "#800000"]}}
       }},
      {"data": {"name": "dash"}, "mark": {"type": "rule", "color": "black", "strokeWidth": 1.7, "strokeDash": [6, 4]},
       "encoding": {"x": {"datum": -0.6, "type": "quantitative", "scale": {"domain": [-0.6, 0.6], "range": [60.3, 159.3], "nice": false, "zero": false}, "axis": null}, "x2": {"datum": 0.6}, "y": {"field": "z", "type": "quantitative", "scale": {"domain": [-0.45, 0.45], "range": [384.7, 271.3], "nice": false, "zero": false}, "axis": null}}},
      {"data": {"name": "heat"}, "transform": [{"filter": "datum.m == 'b2'"}], "mark": {"type": "rect"},
       "encoding": {
        "x": {"field": "x0", "type": "quantitative", "scale": {"domain": [-0.6, 0.6], "range": [187.7, 286], "nice": false, "zero": false},
              "axis": {"orient": "bottom", "offset": -51.3, "values": [-0.5, 0, 0.5], "labelExpr": "datum.value < 0 ? '-0.5' : datum.value > 0 ? '0.5' : '0.0'", "labelFontSize": 15, "ticks": false, "domain": false, "labelPadding": 3, "title": "x (µm)", "titleFontSize": 15, "titleY": 32, "titleBaseline": "alphabetic"}},
        "x2": {"field": "x1"},
        "y": {"field": "z0", "type": "quantitative", "scale": {"domain": [-0.45, 0.45], "range": [384.7, 271.3], "nice": false, "zero": false}, "axis": null},
        "y2": {"field": "z1"},
        "fill": {"field": "E", "type": "quantitative", "scale": {"domain": [0, 0.1625, 0.4875, 0.8125, 1.1375, 1.3], "range": ["#00008f", "#0000ff", "#00ffff", "#ffff00", "#ff0000", "#800000"]}}
       }},
      {"data": {"name": "dash"}, "mark": {"type": "rule", "color": "black", "strokeWidth": 1.7, "strokeDash": [6, 4]},
       "encoding": {"x": {"datum": -0.6, "type": "quantitative", "scale": {"domain": [-0.6, 0.6], "range": [187.7, 286], "nice": false, "zero": false}, "axis": null}, "x2": {"datum": 0.6}, "y": {"field": "z", "type": "quantitative", "scale": {"domain": [-0.45, 0.45], "range": [384.7, 271.3], "nice": false, "zero": false}, "axis": null}}},
      {"data": {"name": "heat"}, "transform": [{"filter": "datum.m == 'b3'"}], "mark": {"type": "rect"},
       "encoding": {
        "x": {"field": "x0", "type": "quantitative", "scale": {"domain": [-0.6, 0.6], "range": [311.7, 410], "nice": false, "zero": false},
              "axis": {"orient": "bottom", "offset": -51.3, "values": [-0.5, 0, 0.5], "labelExpr": "datum.value < 0 ? '-0.5' : datum.value > 0 ? '0.5' : '0.0'", "labelFontSize": 15, "ticks": false, "domain": false, "labelPadding": 3, "title": "x (µm)", "titleFontSize": 15, "titleY": 32, "titleBaseline": "alphabetic"}},
        "x2": {"field": "x1"},
        "y": {"field": "z0", "type": "quantitative", "scale": {"domain": [-0.45, 0.45], "range": [384.7, 271.3], "nice": false, "zero": false}, "axis": null},
        "y2": {"field": "z1"},
        "fill": {"field": "E", "type": "quantitative", "scale": {"domain": [0, 0.1625, 0.4875, 0.8125, 1.1375, 1.3], "range": ["#00008f", "#0000ff", "#00ffff", "#ffff00", "#ff0000", "#800000"]},
                 "legend": {"orient": "none", "legendX": 413.3, "legendY": 271.3, "direction": "vertical", "gradientLength": 113.4, "gradientThickness": 8.4, "title": null, "values": [0, 0.5, 1.3], "format": ".1f", "labelFontSize": 15, "labelOffset": 5, "gradientStrokeWidth": 0, "padding": 0}}
       }},
      {"data": {"name": "dash"}, "mark": {"type": "rule", "color": "black", "strokeWidth": 1.7, "strokeDash": [6, 4]},
       "encoding": {"x": {"datum": -0.6, "type": "quantitative", "scale": {"domain": [-0.6, 0.6], "range": [311.7, 410], "nice": false, "zero": false}, "axis": null}, "x2": {"datum": 0.6}, "y": {"field": "z", "type": "quantitative", "scale": {"domain": [-0.45, 0.45], "range": [384.7, 271.3], "nice": false, "zero": false}, "axis": null}}},
      {"data": {"values": [{}]}, "mark": {"type": "text", "text": "E = V/m", "fontSize": 15, "fontWeight": "bold", "align": "right", "baseline": "middle"},
       "encoding": {"x": {"datum": 0.77, "type": "quantitative", "scale": {"domain": [-0.6, 0.6], "range": [311.7, 410], "nice": false, "zero": false}, "axis": null}, "y": {"datum": 0.587, "type": "quantitative", "scale": {"domain": [-0.45, 0.45], "range": [384.7, 271.3], "nice": false, "zero": false}, "axis": null}}}
     ]
    }
   ],
   "spacing": 156,
   "bounds": "flush",
   "resolve": {"scale": {"stroke": "independent", "fill": "independent"}}
  },
  {
   "hconcat": [
    {
     "width": 473, "height": 436,
     "title": {"text": "(c)", "dx": -99, "offset": 2},
     "resolve": {"scale": {"x": "independent", "y": "independent"}, "axis": {"x": "independent", "y": "independent"}},
     "layer": [
      {
       "data": {"name": "abs_c"},
       "transform": [{"fold": ["without pattern", "with uniform pattern", "with hyperuniform pattern"], "as": ["series", "A"]}],
       "mark": {"type": "line", "strokeWidth": 4.5, "interpolate": "monotone"},
       "encoding": {
        "x": {"field": "wl", "type": "quantitative", "scale": {"domain": [300, 800], "nice": false, "zero": false},
              "axis": {"orient": "bottom", "values": [300, 400, 500, 600, 700, 800], "format": "d", "labelFontSize": 32, "tickSize": -9, "tickWidth": 2.5, "labelPadding": 25, "title": "Wavelength (nm)", "titleFontSize": 37, "titleY": 85, "titleBaseline": "alphabetic"}},
        "y": {"field": "A", "type": "quantitative", "scale": {"domain": [0, 1], "nice": false, "zero": false},
              "axis": {"orient": "left", "values": [0, 0.2, 0.4, 0.6, 0.8, 1], "labelExpr": "datum.value == 0 ? '0' : datum.value == 1 ? '1' : format(datum.value, '.1f')", "labelFontSize": 32, "tickSize": -9, "tickWidth": 2.5, "labelPadding": 24, "title": "Absorbance, A", "titleFontSize": 37, "titleX": -70, "titleY": 218, "titleAngle": 270, "titleBaseline": "alphabetic", "titleAlign": "center"}},
        "stroke": {"field": "series", "type": "nominal", "scale": {"domain": ["without pattern", "with uniform pattern", "with hyperuniform pattern"], "range": ["#0072BD", "#D95319", "#EDB120"]},
                   "legend": {"orient": "none", "legendX": 16.6, "legendY": 141, "title": null, "symbolType": "stroke", "symbolSize": 3844, "symbolStrokeWidth": 5, "clipHeight": 30, "rowPadding": 0, "padding": 0, "labelFontSize": 25, "labelOffset": 3, "labelLimit": 0}}
       }
      },
      {"data": {"values": [{}]}, "mark": {"type": "point", "opacity": 0},
       "encoding": {"x": {"datum": 300, "type": "quantitative", "scale": {"domain": [300, 800], "nice": false, "zero": false}, "axis": {"orient": "top", "values": [300, 400, 500, 600, 700, 800], "labels": false, "tickSize": -9, "tickWidth": 2.5, "title": null}},
                    "y": {"datum": 0, "type": "quantitative", "scale": {"domain": [0, 1], "nice": false, "zero": false}, "axis": {"orient": "right", "values": [0, 0.2, 0.4, 0.6, 0.8, 1], "labels": false, "tickSize": -9, "tickWidth": 2.5, "title": null}}}},
      {"data": {"name": "heat"}, "transform": [{"filter": "datum.m == 'c1'"}], "mark": {"type": "rect"},
       "encoding": {
        "x": {"field": "x0", "type": "quantitative", "scale": {"domain": [-0.6, 0.6], "range": [70, 169.7], "nice": false, "zero": false},
              "axis": {"orient": "bottom", "offset": -51.7, "values": [-0.5, 0, 0.5], "labelExpr": "datum.value < 0 ? '-0.5' : datum.value > 0 ? '0.5' : '0.0'", "labelFontSize": 15, "ticks": false, "domain": false, "labelPadding": 3, "title": "x (µm)", "titleFontSize": 15, "titleY": 32, "titleBaseline": "alphabetic"}},
        "x2": {"field": "x1"},
        "y": {"field": "z0", "type": "quantitative", "scale": {"domain": [-0.45, 0.45], "range": [384.3, 270.3], "nice": false, "zero": false},
              "axis": {"orient": "left", "offset": -70, "values": [0.4, 0, -0.4], "labelExpr": "datum.value > 0.2 ? '0.4' : datum.value < -0.2 ? '0.3' : '0.0'", "labelFontSize": 15, "ticks": false, "domain": false, "labelPadding": 6, "title": "z (µm)", "titleFontSize": 15, "titleAngle": 270, "titleX": -38, "titleY": 333, "titleBaseline": "middle", "titleAlign": "center"}},
        "y2": {"field": "z1"},
        "fill": {"field": "E", "type": "quantitative", "scale": {"domain": [0, 0.1625, 0.4875, 0.8125, 1.1375, 1.3], "range": ["#00008f", "#0000ff", "#00ffff", "#ffff00", "#ff0000", "#800000"]}}
       }},
      {"data": {"name": "dash"}, "mark": {"type": "rule", "color": "black", "strokeWidth": 1.7, "strokeDash": [6, 4]},
       "encoding": {"x": {"datum": -0.6, "type": "quantitative", "scale": {"domain": [-0.6, 0.6], "range": [70, 169.7], "nice": false, "zero": false}, "axis": null}, "x2": {"datum": 0.6}, "y": {"field": "z", "type": "quantitative", "scale": {"domain": [-0.45, 0.45], "range": [384.3, 270.3], "nice": false, "zero": false}, "axis": null}}},
      {"data": {"name": "heat"}, "transform": [{"filter": "datum.m == 'c2'"}], "mark": {"type": "rect"},
       "encoding": {
        "x": {"field": "x0", "type": "quantitative", "scale": {"domain": [-0.6, 0.6], "range": [194, 293.3], "nice": false, "zero": false},
              "axis": {"orient": "bottom", "offset": -51.7, "values": [-0.5, 0, 0.5], "labelExpr": "datum.value < 0 ? '-0.5' : datum.value > 0 ? '0.5' : '0.0'", "labelFontSize": 15, "ticks": false, "domain": false, "labelPadding": 3, "title": "x (µm)", "titleFontSize": 15, "titleY": 32, "titleBaseline": "alphabetic"}},
        "x2": {"field": "x1"},
        "y": {"field": "z0", "type": "quantitative", "scale": {"domain": [-0.45, 0.45], "range": [384.3, 270.3], "nice": false, "zero": false}, "axis": null},
        "y2": {"field": "z1"},
        "fill": {"field": "E", "type": "quantitative", "scale": {"domain": [0, 0.1625, 0.4875, 0.8125, 1.1375, 1.3], "range": ["#00008f", "#0000ff", "#00ffff", "#ffff00", "#ff0000", "#800000"]}}
       }},
      {"data": {"name": "dash"}, "mark": {"type": "rule", "color": "black", "strokeWidth": 1.7, "strokeDash": [6, 4]},
       "encoding": {"x": {"datum": -0.6, "type": "quantitative", "scale": {"domain": [-0.6, 0.6], "range": [194, 293.3], "nice": false, "zero": false}, "axis": null}, "x2": {"datum": 0.6}, "y": {"field": "z", "type": "quantitative", "scale": {"domain": [-0.45, 0.45], "range": [384.3, 270.3], "nice": false, "zero": false}, "axis": null}}},
      {"data": {"name": "heat"}, "transform": [{"filter": "datum.m == 'c3'"}], "mark": {"type": "rect"},
       "encoding": {
        "x": {"field": "x0", "type": "quantitative", "scale": {"domain": [-0.6, 0.6], "range": [317.3, 416.7], "nice": false, "zero": false},
              "axis": {"orient": "bottom", "offset": -50.7, "values": [-0.5, 0, 0.5], "labelExpr": "datum.value < 0 ? '-0.5' : datum.value > 0 ? '0.5' : '0.0'", "labelFontSize": 15, "ticks": false, "domain": false, "labelPadding": 3, "title": "x (µm)", "titleFontSize": 15, "titleY": 32, "titleBaseline": "alphabetic"}},
        "x2": {"field": "x1"},
        "y": {"field": "z0", "type": "quantitative", "scale": {"domain": [-0.45, 0.45], "range": [385.3, 272], "nice": false, "zero": false}, "axis": null},
        "y2": {"field": "z1"},
        "fill": {"field": "E", "type": "quantitative", "scale": {"domain": [0, 0.1625, 0.4875, 0.8125, 1.1375, 1.3], "range": ["#00008f", "#0000ff", "#00ffff", "#ffff00", "#ff0000", "#800000"]},
                 "legend": {"orient": "none", "legendX": 420.7, "legendY": 271, "direction": "vertical", "gradientLength": 115, "gradientThickness": 7.5, "title": null, "values": [0, 0.5, 1.3], "format": ".1f", "labelFontSize": 15, "labelOffset": 5, "gradientStrokeWidth": 0, "padding": 0}}
       }},
      {"data": {"name": "dash"}, "mark": {"type": "rule", "color": "black", "strokeWidth": 1.7, "strokeDash": [6, 4]},
       "encoding": {"x": {"datum": -0.6, "type": "quantitative", "scale": {"domain": [-0.6, 0.6], "range": [317.3, 416.7], "nice": false, "zero": false}, "axis": null}, "x2": {"datum": 0.6}, "y": {"field": "z", "type": "quantitative", "scale": {"domain": [-0.45, 0.45], "range": [385.3, 272], "nice": false, "zero": false}, "axis": null}}},
      {"data": {"values": [{}]}, "mark": {"type": "text", "text": "E = V/m", "fontSize": 15, "fontWeight": "bold", "align": "right", "baseline": "middle"},
       "encoding": {"x": {"datum": 0.87, "type": "quantitative", "scale": {"domain": [-0.6, 0.6], "range": [317.3, 416.7], "nice": false, "zero": false}, "axis": null}, "y": {"datum": 0.577, "type": "quantitative", "scale": {"domain": [-0.45, 0.45], "range": [385.3, 272], "nice": false, "zero": false}, "axis": null}}}
     ]
    },
    {
     "width": 464, "height": 426,
     "title": {"text": "(d)", "dx": -112, "offset": -4},
     "resolve": {"axis": {"x": "independent", "y": "independent"}},
     "layer": [
      {
       "data": {"name": "bars"},
       "mark": {"type": "bar", "stroke": "black", "strokeWidth": 1.5},
       "encoding": {
        "x": {"field": "t", "type": "ordinal", "sort": ["50", "100", "150", "200"], "scale": {"type": "band", "paddingInner": 0, "paddingOuter": 0.254},
              "axis": {"orient": "bottom", "labelAngle": 0, "labelFontSize": 32, "tickSize": -9, "tickWidth": 2.5, "labelPadding": 25, "title": "t", "titleFontSize": 37, "titleX": 156, "titleY": 81, "titleBaseline": "alphabetic"}},
        "xOffset": {"field": "pattern", "type": "nominal", "sort": ["Uniform pattern", "Hyperuniform pattern"], "scale": {"paddingInner": 0.203, "paddingOuter": 0.866}},
        "y": {"field": "v", "type": "quantitative", "stack": null, "scale": {"domain": [0, 10], "nice": false},
              "axis": {"orient": "left", "values": [0, 2, 4, 6, 8, 10], "labelFontSize": 32, "tickSize": -9, "tickWidth": 2.5, "labelPadding": 22, "title": "Improvement in J", "titleFontSize": 37, "titleX": -80, "titleY": 269, "titleAngle": 270, "titleBaseline": "alphabetic", "titleAlign": "center"}},
        "fill": {"field": "pattern", "type": "nominal", "sort": ["Uniform pattern", "Hyperuniform pattern"], "scale": {"domain": ["Uniform pattern", "Hyperuniform pattern"], "range": ["#0072BD", "#D95319"]},
                 "legend": {"orient": "none", "legendX": 14.8, "legendY": 12.9, "title": null, "symbolType": "M-1,-0.33H1V0.33H-1Z", "symbolSize": 3481, "symbolStrokeColor": "black", "symbolStrokeWidth": 1.5, "symbolOpacity": 1, "clipHeight": 26, "rowPadding": 0, "padding": 0, "labelFontSize": 23, "labelOffset": 5, "labelLimit": 0}}
       }
      },
      {
       "data": {"name": "bars"},
       "mark": {"type": "bar", "opacity": 0},
       "encoding": {
        "x": {"field": "t", "type": "ordinal", "sort": ["50", "100", "150", "200"], "axis": {"orient": "top", "labels": false, "tickSize": -9, "tickWidth": 2.5, "title": null}},
        "y": {"field": "v", "type": "quantitative", "stack": null, "axis": {"orient": "right", "values": [0, 2, 4, 6, 8, 10], "labels": false, "tickSize": -9, "tickWidth": 2.5, "title": null}}
       }
      },
      {
       "data": {"name": "bars"},
       "mark": {"type": "bar", "opacity": 0},
       "encoding": {
        "x": {"field": "t", "type": "ordinal", "sort": ["50", "100", "150", "200"], "axis": {"orient": "bottom", "labels": false, "ticks": false, "title": "glass", "titleFontSize": 27, "titleX": 193, "titleY": 101, "titleBaseline": "alphabetic"}},
        "y": {"field": "v", "type": "quantitative", "stack": null, "axis": {"orient": "left", "labels": false, "ticks": false, "title": "opt", "titleFontSize": 28, "titleX": -62, "titleY": 108, "titleAngle": 270, "titleBaseline": "alphabetic", "titleAlign": "center"}}
       }
      },
      {
       "data": {"name": "bars"},
       "mark": {"type": "bar", "opacity": 0},
       "encoding": {
        "x": {"field": "t", "type": "ordinal", "sort": ["50", "100", "150", "200"], "axis": {"orient": "bottom", "labels": false, "ticks": false, "title": "(nm)", "titleFontSize": 37, "titleX": 274, "titleY": 81, "titleBaseline": "alphabetic"}},
        "y": {"field": "v", "type": "quantitative", "stack": null, "axis": {"orient": "left", "labels": false, "ticks": false, "title": "(%)", "titleFontSize": 37, "titleX": -80, "titleY": 49, "titleAngle": 270, "titleBaseline": "alphabetic", "titleAlign": "center"}}
       }
      }
     ]
    }
   ],
   "spacing": 169,
   "bounds": "flush",
   "resolve": {"scale": {"stroke": "independent", "fill": "independent"}}
  }
 ]
}
